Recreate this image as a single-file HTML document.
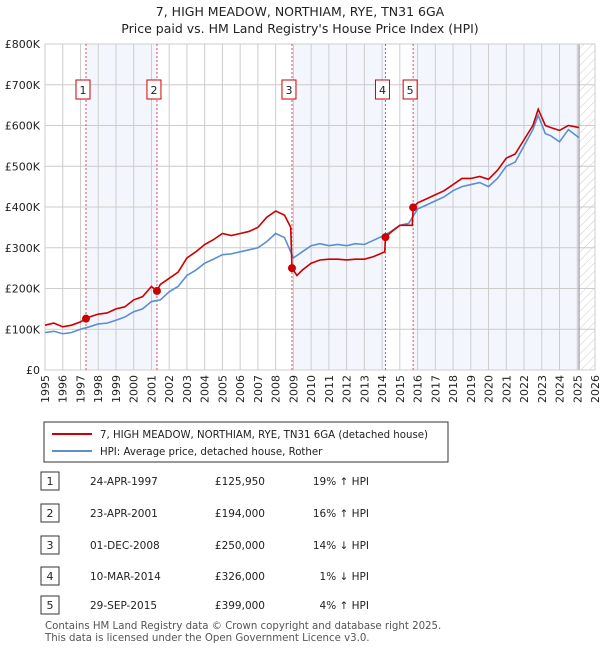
<!DOCTYPE html>
<html><head><meta charset="utf-8"><style>
body{margin:0;background:#fff;font-family:"Liberation Sans","DejaVu Sans",sans-serif;}
svg text{font-family:"DejaVu Sans","Liberation Sans",sans-serif;}
</style></head><body>
<svg id="c" width="600" height="650" xmlns="http://www.w3.org/2000/svg">
<defs><pattern id="hatch" width="6" height="6" patternUnits="userSpaceOnUse" patternTransform="rotate(45)"><line x1="0" y1="0" x2="0" y2="6" stroke="#ccc" stroke-width="1"/></pattern></defs>
<text x="300" y="16" text-anchor="middle" font-size="12.5" fill="#222">7, HIGH MEADOW, NORTHIAM, RYE, TN31 6GA</text>
<text x="300" y="33" text-anchor="middle" font-size="12.5" fill="#222">Price paid vs. HM Land Registry's House Price Index (HPI)</text>
<g id="plot"></g>
<rect x="44" y="422" width="404" height="40" fill="#fff" stroke="#333"/>
<line x1="52" y1="434" x2="92" y2="434" stroke="#cc0000" stroke-width="2"/>
<text x="100" y="438" font-size="10.2" fill="#222">7, HIGH MEADOW, NORTHIAM, RYE, TN31 6GA (detached house)</text>
<line x1="52" y1="451" x2="92" y2="451" stroke="#5b8fd0" stroke-width="2"/>
<text x="100" y="455" font-size="10.2" fill="#222">HPI: Average price, detached house, Rother</text>
<g id="table"></g>
<text x="45" y="629" font-size="10.2" fill="#555">Contains HM Land Registry data © Crown copyright and database right 2025.</text>
<text x="45" y="641" font-size="10.2" fill="#555">This data is licensed under the Open Government Licence v3.0.</text>
</svg>
<script>
const hpiYears=[1995,1995.5,1996,1996.5,1997,1997.5,1998,1998.5,1999,1999.5,2000,2000.5,2001,2001.5,2002,2002.5,2003,2003.5,2004,2004.5,2005,2005.5,2006,2006.5,2007,2007.5,2008,2008.5,2009,2009.5,2010,2010.5,2011,2011.5,2012,2012.5,2013,2013.5,2014,2014.5,2015,2015.5,2016,2016.5,2017,2017.5,2018,2018.5,2019,2019.5,2020,2020.5,2021,2021.5,2022,2022.5,2022.8,2023.2,2023.5,2024,2024.5,2025.1];
const hpiValues=[92,95,89,92,100,106,113,115,122,130,143,150,168,172,192,205,232,245,262,272,283,285,290,295,300,315,335,325,275,290,305,310,305,308,305,310,308,318,328,340,355,360,395,405,415,425,440,450,455,460,450,470,500,510,550,590,625,580,575,560,590,570];
const priceYears=[1995,1995.5,1996,1996.5,1997,1997.31,1997.5,1998,1998.5,1999,1999.5,2000,2000.5,2001,2001.31,2001.5,2002,2002.5,2003,2003.5,2004,2004.5,2005,2005.5,2006,2006.5,2007,2007.5,2008,2008.5,2008.85,2008.92,2009.2,2009.5,2010,2010.5,2011,2011.5,2012,2012.5,2013,2013.5,2014.15,2014.19,2014.5,2015,2015.7,2015.75,2016,2016.5,2017,2017.5,2018,2018.5,2019,2019.5,2020,2020.5,2021,2021.5,2022,2022.5,2022.8,2023.2,2023.5,2024,2024.5,2025.1];
const priceValues=[110,115,106,110,118,126,130,137,140,150,155,172,180,205,194,210,225,240,275,290,308,320,335,330,335,340,350,375,390,380,350,250,232,245,262,270,272,272,270,272,272,278,290,326,338,355,355,399,410,420,430,440,455,470,470,475,468,490,520,530,565,600,640,600,595,588,600,595];
const saleYears=[1997.31,2001.31,2008.92,2014.19,2015.75];
const salePrices=[125950,194000,250000,326000,399000];
const saleLabels=["1","2","3","4","5"];
const saleDates=["24-APR-1997","23-APR-2001","01-DEC-2008","10-MAR-2014","29-SEP-2015"];
const salePriceText=["£125,950","£194,000","£250,000","£326,000","£399,000"];
const saleHpiText=["19% ↑ HPI","16% ↑ HPI","14% ↓ HPI","1% ↓ HPI","4% ↑ HPI"];
const yTicks=[0,100,200,300,400,500,600,700,800];
const yTickLabels=["£0","£100K","£200K","£300K","£400K","£500K","£600K","£700K","£800K"];
const xTicks=[];for(let y=1995;y<=2026;y++)xTicks.push(y);

const NS="http://www.w3.org/2000/svg";
const X0=45,X1=595,Y0=370,Y1=44;
const xs=y=>X0+(y-1995)/(2026-1995)*(X1-X0);
const ys=v=>Y0-v/800*(Y0-Y1);
const plot=document.getElementById('plot');
function mk(tag,attrs,parent){const e=document.createElementNS(NS,tag);for(const k in attrs)e.setAttribute(k,attrs[k]);(parent||plot).appendChild(e);return e;}
mk('rect',{x:X0,y:Y1,width:X1-X0,height:Y0-Y1,fill:'#fff'});
const bounds=[...saleYears,2025.1];
for(let i=0;i<bounds.length-1;i+=2){
 const r=mk('rect',{x:xs(bounds[i]),y:Y1,width:xs(bounds[i+1])-xs(bounds[i]),height:Y0-Y1,fill:'#eef3fc',opacity:0.7});
 
 
}
const h=mk('rect',{x:xs(2025.1),y:Y1,width:X1-xs(2025.1),height:Y0-Y1,fill:'url(#hatch)'});


xTicks.forEach(t=>{
 mk('line',{x1:xs(t),x2:xs(t),y1:Y1,y2:Y0,stroke:'#ccc'});
 const x=xs(t)+4,y=375;
 const tx=mk('text',{x:x,y:y,'text-anchor':'end','font-size':11,fill:'#222',transform:'rotate(-90 '+x+' '+y+')'});tx.textContent=t;
 
 
});
yTicks.forEach((t,i)=>{
 mk('line',{x1:X0,x2:X1,y1:ys(t),y2:ys(t),stroke:'#ccc'});
 const tx=mk('text',{x:X0-5,y:ys(t)+4,'text-anchor':'end','font-size':11,fill:'#222'});tx.textContent=yTickLabels[i];
 
 
});
mk('line',{x1:xs(2025.1),x2:xs(2025.1),y1:Y1,y2:Y0,stroke:'#888'});
mk('rect',{x:X0,y:Y1,width:X1-X0,height:Y0-Y1,fill:'none',stroke:'#ccc'});
saleYears.forEach((s,i)=>{
 const l=mk('line',{x1:xs(s),x2:xs(s),y1:Y1,y2:Y0,stroke:'#e05050','stroke-dasharray':'2,2'});
 
 
 const bx=xs(s)-3-7;
 const b=mk('rect',{x:bx,y:80,width:14,height:19,fill:'#fff',stroke:'#cc0000'});
 
 
 const t=mk('text',{x:bx+7,y:94,'text-anchor':'middle','font-size':11,fill:'#222'});t.textContent=saleLabels[i];
});
const line=(xa,va,col,name)=>{
 const p=mk('polyline',{points:xa.map((y,i)=>xs(y)+','+ys(va[i])).join(' '),fill:'none',stroke:col,'stroke-width':1.6});
 
 
};
line(hpiYears,hpiValues,'#5b8fd0','hpi-line');
line(priceYears,priceValues,'#cc0000','price-line');
saleYears.forEach((s,i)=>{
 const c=mk('circle',{cx:xs(s),cy:ys(salePrices[i]/1000),r:4,fill:'#cc0000'});
 
 
});
const tbl=document.getElementById('table');
const rowY=[481,513,545,576,605];
saleLabels.forEach((l,i)=>{
 const y=rowY[i];
 const b=mk('rect',{x:41,y:y-9,width:18,height:18,fill:'#fff',stroke:'#333'},tbl);
 
 
 const t0=mk('text',{x:50,y:y+4,'text-anchor':'middle','font-size':11,fill:'#222'},tbl);t0.textContent=l;
 const t1=mk('text',{x:90,y:y+4,'font-size':10.5,fill:'#222'},tbl);t1.textContent=saleDates[i];
 
 
 const t2=mk('text',{x:265,y:y+4,'text-anchor':'end','font-size':10.5,fill:'#222'},tbl);t2.textContent=salePriceText[i];
 
 
 const t3=mk('text',{x:369,y:y+4,'text-anchor':'end','font-size':10.5,fill:'#222'},tbl);t3.textContent=saleHpiText[i];
 
 
});
</script>
</body></html>
